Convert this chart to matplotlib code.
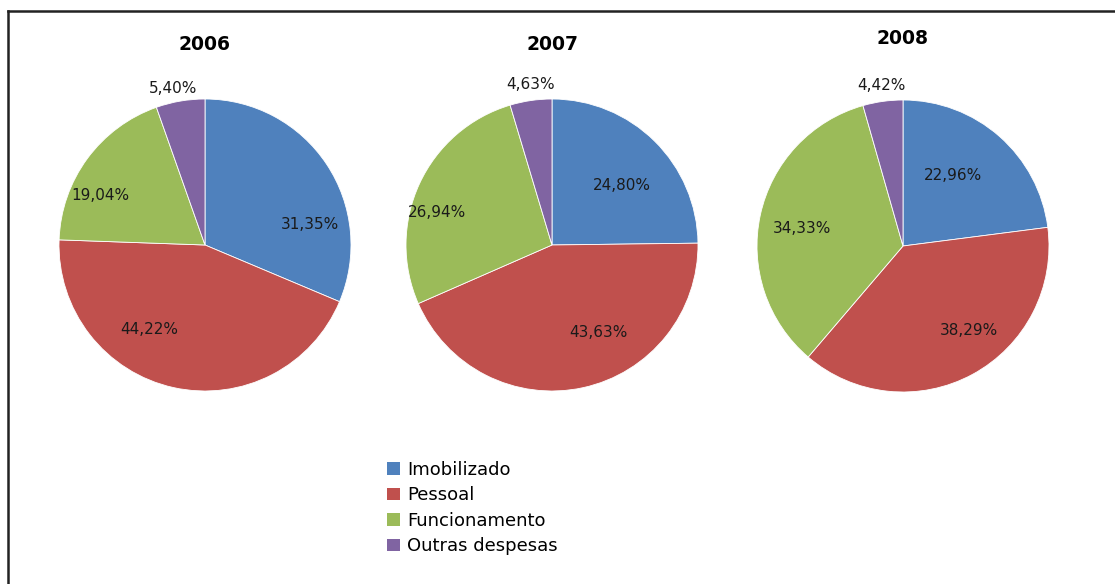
import matplotlib.pyplot as plt
from matplotlib.lines import Line2D
from matplotlib.patches import Patch

# data
years = ['2006', '2007', '2008']
categories = ['Imobilizado', 'Pessoal', 'Funcionamento', 'Outras despesas']
shares_2006 = [31.35, 44.22, 19.04, 5.40]
shares_2007 = [24.80, 43.63, 26.94, 4.63]
shares_2008 = [22.96, 38.29, 34.33, 4.42]
all_shares = [shares_2006, shares_2007, shares_2008]

colors = ['#4F81BD', '#C0504D', '#9BBB59', '#8064A2']

# label positions (radius units), similar to excel's "best fit"
label_pos = [
    [(0.72, 0.14), (-0.38, -0.58), (-0.72, 0.34), (-0.22, 1.075)],
    [(0.48, 0.41), (0.32, -0.60), (-0.79, 0.22), (-0.15, 1.10)],
    [(0.34, 0.48), (0.45, -0.58), (-0.69, 0.12), (-0.15, 1.10)],
]

# pie centres in pixels (x, y from top), radius 146 px
W, H = 1115, 584
centres = [(205, 245), (552, 245), (903, 246)]
title_y = [45, 45, 38]
R = 146
half = 1.2 * R

fig = plt.figure(figsize=(W / 100, H / 100), dpi=100)

for i in range(3):
    cx, cy = centres[i]
    ax = fig.add_axes([(cx - half) / W, (H - cy - half) / H, 2 * half / W, 2 * half / H])
    ax.pie(all_shares[i], colors=colors, startangle=90, counterclock=False,
           wedgeprops=dict(edgecolor='white', linewidth=0.6))
    ax.set_xlim(-1.2, 1.2)
    ax.set_ylim(-1.2, 1.2)
    ax.set_aspect('equal')
    ax.axis('off')
    for v, (x, y) in zip(all_shares[i], label_pos[i]):
        txt = ('%.2f%%' % v).replace('.', ',')
        ax.text(x, y, txt, ha='center', va='center', fontsize=11, color='#1a1a1a')
    fig.text(cx / W, 1 - title_y[i] / H, years[i], ha='center', va='center',
             fontsize=13.5, fontweight='bold')

handles = [Patch(facecolor=c, edgecolor='none') for c in colors]
fig.legend(handles, categories, loc='center left', bbox_to_anchor=(387 / W, 1 - 508 / H),
           frameon=False, fontsize=13, handlelength=0.7, handleheight=0.7,
           handletextpad=0.4, labelspacing=0.42, borderpad=0, borderaxespad=0)

# frame lines (top and left, the image is cropped on the other sides)
fig.add_artist(Line2D([8 / W, 1], [1 - 11 / H, 1 - 11 / H], color='#222222', linewidth=1.8))
fig.add_artist(Line2D([8 / W, 8 / W], [0, 1 - 11 / H], color='#222222', linewidth=1.8))

fig.savefig('out.png', dpi=100)
